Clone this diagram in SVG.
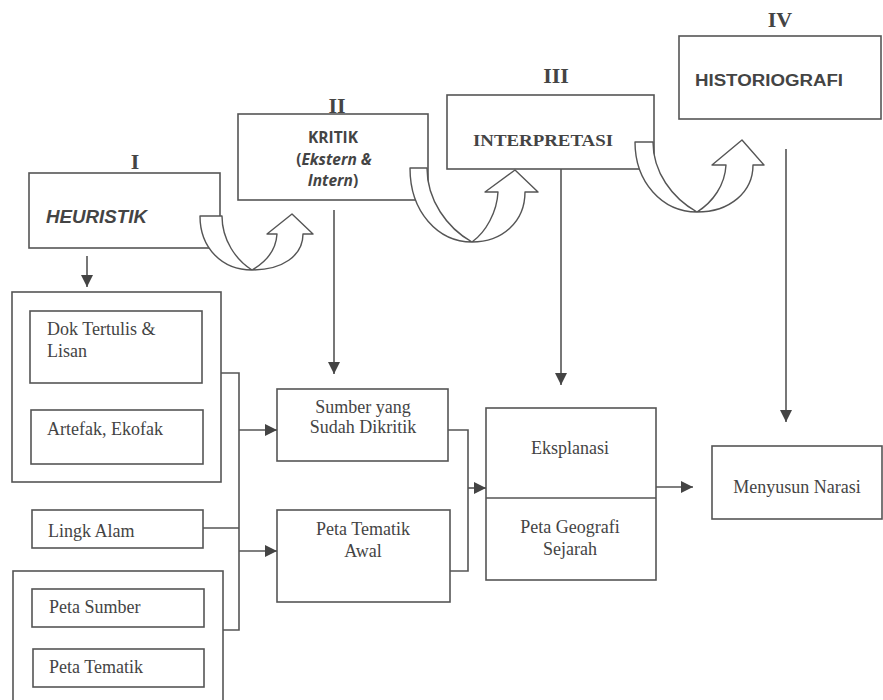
<svg xmlns="http://www.w3.org/2000/svg" width="883" height="700" viewBox="0 0 883 700">
<defs>
<marker id="ah" markerUnits="userSpaceOnUse" markerWidth="12" markerHeight="12" refX="12" refY="6" orient="auto">
<path d="M0,0 L12,6 L0,12 Z" fill="#444"/>
</marker>
<style>
.box{fill:#fff;stroke:#555;stroke-width:1.6}
.ln{fill:none;stroke:#555;stroke-width:1.6}
.ua{fill:#fff;stroke:#555;stroke-width:1.4;stroke-linejoin:round}
.rn{font-family:"Liberation Serif",serif;font-weight:bold;font-size:22px;fill:#444;text-anchor:middle}
.sr{font-family:"Liberation Serif",serif;font-size:18px;fill:#444}
.ss{font-family:"Open Sans","Liberation Sans",sans-serif;font-weight:bold;fill:#444}
</style>
</defs>
<rect width="883" height="700" fill="#fff"/>

<g id="heuristik">
<text class="rn" x="135" y="169">I</text>
<rect class="box" x="29" y="173" width="191" height="75"/>
<text x="46" y="223" font-family="Liberation Sans,Arial,sans-serif" font-weight="bold" font-style="italic" font-size="18" fill="#444" textLength="101" lengthAdjust="spacingAndGlyphs">HEURISTIK</text>
</g>

<g id="kritik">
<text class="rn" x="337" y="113">II</text>
<rect class="box" x="238" y="114" width="190" height="86"/>
<text class="ss" x="333" y="143" font-size="15.5" text-anchor="middle">KRITIK</text>
<text class="ss" x="334" y="165" font-size="15.5" text-anchor="middle">(<tspan font-style="italic">Ekstern &amp;</tspan></text>
<text class="ss" x="333" y="186" font-size="15.5" text-anchor="middle"><tspan font-style="italic">Intern</tspan>)</text>
</g>

<g id="interpretasi">
<text class="rn" x="556" y="83">III</text>
<rect class="box" x="447" y="95" width="207" height="74"/>
<text x="473" y="146" font-family="Liberation Serif,serif" font-weight="bold" font-size="17" fill="#444" textLength="140" lengthAdjust="spacingAndGlyphs">INTERPRETASI</text>
</g>

<g id="historiografi">
<text class="rn" x="780" y="27">IV</text>
<rect class="box" x="679" y="36" width="202" height="83"/>
<text x="695" y="86" font-family="Liberation Sans,Arial,sans-serif" font-weight="bold" font-size="16" fill="#444" textLength="148" lengthAdjust="spacingAndGlyphs">HISTORIOGRAFI</text>
</g>

<g id="sumber-group">
<rect class="box" x="12" y="292" width="209" height="190"/>
</g>
<g id="dok">
<rect class="box" x="30" y="311" width="172" height="72"/>
<text class="sr" x="47" y="335">Dok Tertulis &amp;</text>
<text class="sr" x="47" y="357">Lisan</text>
</g>
<g id="artefak">
<rect class="box" x="31" y="410" width="172" height="54"/>
<text class="sr" x="47" y="435">Artefak, Ekofak</text>
</g>
<g id="lingk">
<rect class="box" x="32" y="510" width="171" height="38"/>
<text class="sr" x="48" y="537">Lingk Alam</text>
</g>
<g id="peta-group">
<rect class="box" x="13" y="571" width="210" height="140"/>
</g>
<g id="peta-sumber">
<rect class="box" x="32" y="589" width="172" height="38"/>
<text class="sr" x="49" y="613">Peta Sumber</text>
</g>
<g id="peta-tematik">
<rect class="box" x="33" y="649" width="171" height="38"/>
<text class="sr" x="49" y="673">Peta Tematik</text>
</g>

<g id="sumber-dikritik">
<rect class="box" x="277" y="389" width="171" height="72"/>
<text class="sr" x="363" y="413" text-anchor="middle">Sumber yang</text>
<text class="sr" x="363" y="433" text-anchor="middle">Sudah Dikritik</text>
</g>
<g id="peta-tematik-awal">
<rect class="box" x="277" y="510" width="173" height="92"/>
<text class="sr" x="363" y="535" text-anchor="middle">Peta Tematik</text>
<text class="sr" x="363" y="557" text-anchor="middle">Awal</text>
</g>

<g id="eksplanasi">
<rect class="box" x="486" y="408" width="170" height="172"/>
<line class="ln" x1="486" y1="498" x2="656" y2="498"/>
<text class="sr" x="570" y="454" text-anchor="middle">Eksplanasi</text>
<text class="sr" x="570" y="533" text-anchor="middle">Peta Geografi</text>
<text class="sr" x="570" y="555" text-anchor="middle">Sejarah</text>
</g>

<g id="narasi">
<rect class="box" x="712" y="446" width="170" height="73"/>
<text class="sr" x="797" y="493" text-anchor="middle">Menyusun Narasi</text>
</g>

<g id="connectors">
<line class="ln" x1="87" y1="256" x2="87" y2="287" marker-end="url(#ah)"/>
<line class="ln" x1="334" y1="210" x2="334" y2="374" marker-end="url(#ah)"/>
<line class="ln" x1="561" y1="169" x2="561" y2="385" marker-end="url(#ah)"/>
<line class="ln" x1="786" y1="149" x2="786" y2="422" marker-end="url(#ah)"/>
<path class="ln" d="M221,373 H239 V630 H223"/>
<path class="ln" d="M203,528 H239"/>
<line class="ln" x1="239" y1="430" x2="277" y2="430" marker-end="url(#ah)"/>
<line class="ln" x1="239" y1="551" x2="277" y2="551" marker-end="url(#ah)"/>
<path class="ln" d="M448,430 H468 V571 H450"/>
<line class="ln" x1="468" y1="488" x2="486" y2="488" marker-end="url(#ah)"/>
<line class="ln" x1="656" y1="487" x2="693" y2="487" marker-end="url(#ah)"/>
<path class="ua" d="M200,216 L222,216 C222,240 236,260 252,270 C266,262 276,250 277,234 L267,234 L292,214 L313,234 L303,234 C303,256 282,270 252,270 C222,270 200,248 200,216 Z"/>
<path class="ua" d="M410,168 L427,168 C427,200 447,228 472,242 C486,232 497,212 498,192 L485,192 L515,170 L538,192 L525,192 C525,222 502,242 472,242 C438,242 410,212 410,168 Z"/>
<path class="ua" d="M635,142 L653,142 C653,172 672,198 697,212 C713,202 725,185 726,165 L712,165 L742,140 L764,165 L753,165 C753,192 730,212 697,212 C662,212 635,182 635,142 Z"/>
</g>
</svg>
